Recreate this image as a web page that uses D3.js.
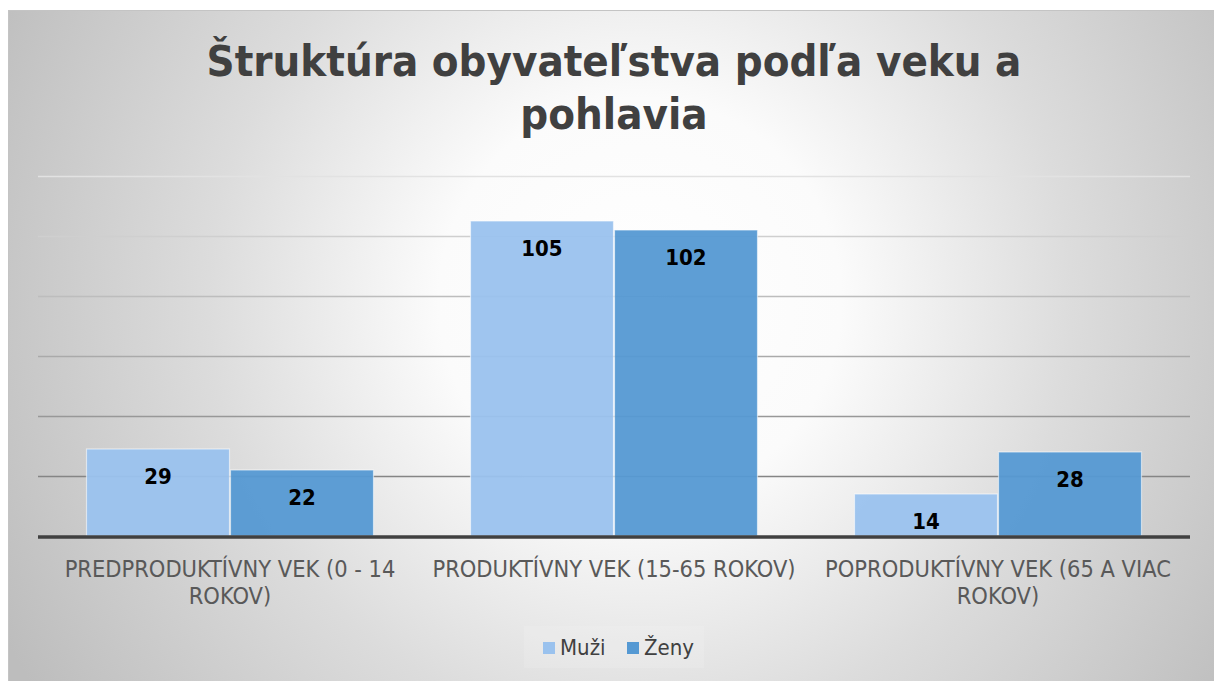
<!DOCTYPE html>
<html><head><meta charset="utf-8">
<script src="https://cdn.jsdelivr.net/npm/d3@7"></script>
<style>body{margin:0;background:#fff}svg{display:block}</style>
</head><body>
<svg id="c" width="1214" height="681"></svg>
<script>
const titleLines = ["Štruktúra obyvateľstva podľa veku a", "pohlavia"];
const categories = [
  ["PREDPRODUKTÍVNY VEK (0 - 14", "ROKOV)"],
  ["PRODUKTÍVNY VEK (15-65 ROKOV)"],
  ["POPRODUKTÍVNY VEK (65 A VIAC", "ROKOV)"]
];
const seriesNames = ["Muži", "Ženy"];
const muzi = [29, 105, 14];
const zeny = [22, 102, 28];
const yTicks = [0, 20, 40, 60, 80, 100, 120];
const colors = ["#9AC2EE", "#5599D3"];

const svg = d3.select("#c");
const W = 1214, H = 681;
const font = "'DejaVu Sans Condensed', 'DejaVu Sans', sans-serif";

const defs = svg.append("defs");
const rg = defs.append("radialGradient").attr("id", "bg")
  .attr("gradientUnits", "userSpaceOnUse")
  .attr("cx", 640).attr("cy", 300).attr("r", 720);
rg.append("stop").attr("offset", "0").attr("stop-color", "#ffffff");
rg.append("stop").attr("offset", "0.28").attr("stop-color", "#fbfbfb");
rg.append("stop").attr("offset", "0.6").attr("stop-color", "#dcdcdc");
rg.append("stop").attr("offset", "1").attr("stop-color", "#bdbdbd");

svg.append("rect").attr("x", 8).attr("y", 10).attr("width", W - 8).attr("height", H - 10)
  .attr("fill", "url(#bg)");
svg.append("line").attr("x1", 8).attr("x2", W).attr("y1", 10.5).attr("y2", 10.5)
  .attr("stroke", "#c4c4c4").attr("stroke-width", 1);
svg.append("line").attr("x1", 8.5).attr("x2", 8.5).attr("y1", 10).attr("y2", H)
  .attr("stroke", "#c4c4c4").attr("stroke-width", 1);

const plot = {left: 38, right: 1190, top: 176, bottom: 536};
const x0 = d3.scaleBand().domain(d3.range(categories.length)).range([plot.left, plot.right]).paddingInner(0).paddingOuter(0);
const y = d3.scaleLinear().domain([0, 120]).range([plot.bottom, plot.top]);
const x1 = d3.scaleBand().domain(d3.range(seriesNames.length)).range([48, x0.bandwidth() - 48]).padding(0);

const gridColor = d3.scaleLinear().domain([120, 20]).range(["#e2e2e2", "#858585"]);
svg.append("g").selectAll("line").data(yTicks.filter(t => t > 0)).join("line")
  .attr("x1", plot.left).attr("x2", plot.right)
  .attr("y1", d => Math.round(y(d)) + 0.5).attr("y2", d => Math.round(y(d)) + 0.5)
  .attr("stroke", d => gridColor(d)).attr("stroke-width", 1.3);

const data = [muzi, zeny];
const groups = svg.append("g").selectAll("g").data(categories).join("g")
  .attr("transform", (d, i) => `translate(${x0(i)},0)`);
groups.selectAll("rect").data((d, i) => data.map((s, k) => ({k, v: s[i]}))).join("rect")
  .attr("x", d => x1(d.k) + 0.5).attr("width", x1.bandwidth() - 1)
  .attr("y", d => y(d.v)).attr("height", d => y(0) - y(d.v))
  .attr("fill", d => colors[d.k]).attr("fill-opacity", 0.95)
  .attr("stroke", "#ffffff").attr("stroke-opacity", 0.55).attr("stroke-width", 1.2);
groups.selectAll("text.v").data((d, i) => data.map((s, k) => ({k, v: s[i]}))).join("text")
  .attr("class", "v")
  .attr("x", d => x1(d.k) + x1.bandwidth() / 2).attr("y", d => y(d.v) + 35)
  .attr("text-anchor", "middle").attr("font-family", font).attr("font-weight", "bold")
  .attr("font-size", 22).attr("fill", "#000").text(d => d.v);

// baseline
svg.append("line").attr("x1", plot.left).attr("x2", plot.right).attr("y1", y(0) + 1).attr("y2", y(0) + 1)
  .attr("stroke", "#404040").attr("stroke-width", 3.5);

// category labels
const cl = svg.append("g").selectAll("text").data(categories).join("text")
  .attr("text-anchor", "middle").attr("font-family", font).attr("font-size", 22)
  .attr("fill", "#595959");
cl.each(function(lines, i) {
  d3.select(this).selectAll("tspan").data(lines).join("tspan")
    .attr("x", x0(i) + x0.bandwidth() / 2).attr("y", (d, j) => 577 + j * 27).text(d => d);
});
// fit first label width to ~331px
const lw = cl.filter((d, i) => i === 0).select("tspan").node().getComputedTextLength();
cl.attr("font-size", 22 * 331 / lw);

// title
const tt = svg.append("text").attr("text-anchor", "middle").attr("font-family", font)
  .attr("font-weight", "bold").attr("font-size", 50).attr("fill", "#404040");
tt.selectAll("tspan").data(titleLines).join("tspan")
  .attr("x", 614).attr("y", (d, j) => 76 + j * 53).text(d => d);
const w0 = tt.select("tspan").node().getComputedTextLength();
tt.attr("font-size", 50 * 815 / w0);

// legend
svg.append("rect").attr("x", 524).attr("y", 626).attr("width", 180).attr("height", 42)
  .attr("fill", "#ffffff").attr("fill-opacity", 0.12);
const legX = [543, 627];
const lg = svg.append("g").selectAll("g").data(seriesNames).join("g")
  .attr("transform", (d, i) => `translate(${legX[i]},0)`);
lg.append("rect").attr("x", 0).attr("y", 642).attr("width", 12).attr("height", 12)
  .attr("fill", (d, i) => colors[i]);
lg.append("text").attr("x", 17).attr("y", 655).attr("font-family", font).attr("font-size", 22)
  .attr("fill", "#404040").text(d => d);
</script>
</body></html>
